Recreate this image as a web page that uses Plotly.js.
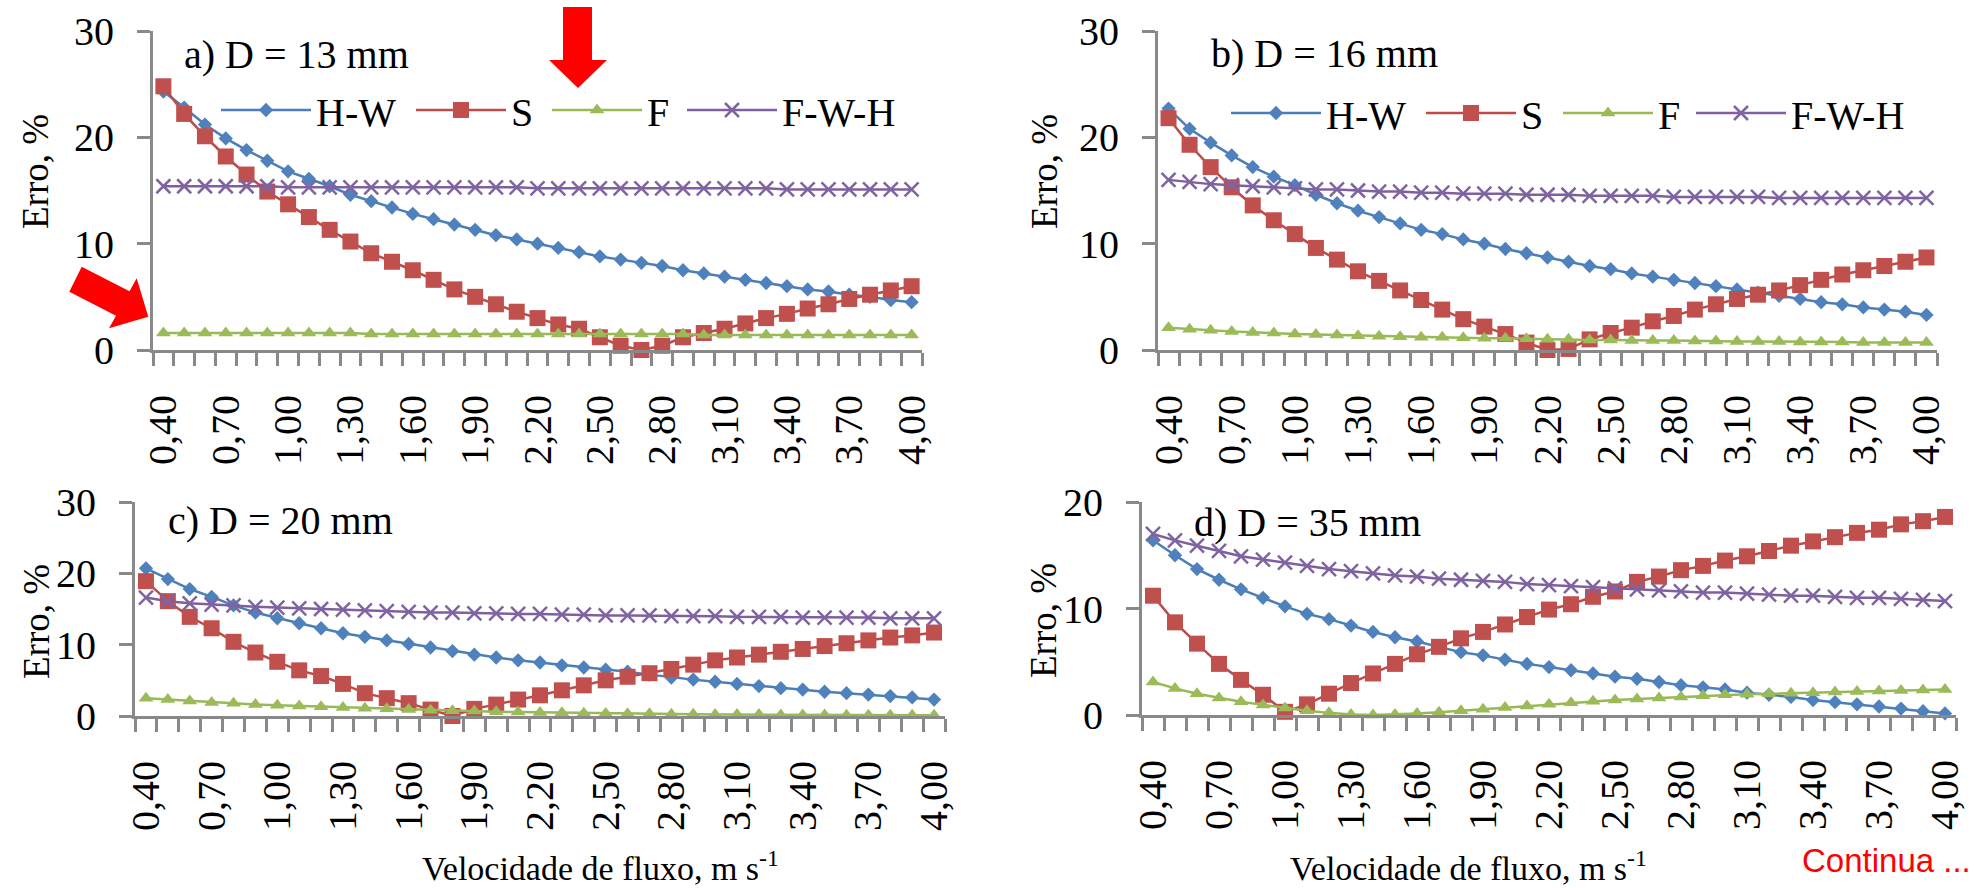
<!DOCTYPE html>
<html>
<head>
<meta charset="utf-8">
<script src="https://cdn.plot.ly/plotly-3.0.1.min.js"></script>
<style>
html,body{margin:0;padding:0;background:#ffffff;}
#chart{width:1975px;height:888px;}
</style>
</head>
<body>
<div id="chart"></div>
<script>
// ---------------- data ----------------
const velocity = [0.40,0.50,0.60,0.70,0.80,0.90,1.00,1.10,1.20,1.30,1.40,1.50,1.60,1.70,1.80,1.90,2.00,2.10,2.20,2.30,2.40,2.50,2.60,2.70,2.80,2.90,3.00,3.10,3.20,3.30,3.40,3.50,3.60,3.70,3.80,3.90,4.00];
const tickVals = [0.40,0.70,1.00,1.30,1.60,1.90,2.20,2.50,2.80,3.10,3.40,3.70,4.00];
const tickLabels = ["0,40","0,70","1,00","1,30","1,60","1,90","2,20","2,50","2,80","3,10","3,40","3,70","4,00"];
const seriesNames = ["H-W","S","F","F-W-H"];
const panelTitles = ["a) D = 13 mm","b) D = 16 mm","c) D = 20 mm","d) D = 35 mm"];

// a) D = 13 mm
const hw13  = [24.3,22.8,21.2,19.9,18.8,17.8,16.8,16.1,15.4,14.6,14.0,13.4,12.8,12.3,11.8,11.3,10.8,10.4,10.0,9.6,9.2,8.8,8.5,8.2,7.9,7.5,7.2,6.9,6.6,6.3,6.0,5.7,5.5,5.2,5.0,4.7,4.5];
const s13   = [24.8,22.2,20.1,18.2,16.5,14.9,13.7,12.5,11.3,10.2,9.1,8.3,7.5,6.6,5.7,5.0,4.3,3.6,3.0,2.4,2.0,1.2,0.4,0.0,0.4,1.2,1.6,2.0,2.5,3.0,3.4,3.9,4.3,4.8,5.2,5.6,6.0];
const f13   = [1.6,1.6,1.6,1.6,1.6,1.6,1.6,1.6,1.6,1.6,1.5,1.5,1.5,1.5,1.5,1.5,1.5,1.5,1.5,1.5,1.5,1.5,1.5,1.5,1.5,1.5,1.4,1.4,1.4,1.4,1.4,1.4,1.4,1.4,1.4,1.4,1.4];
const fwh13 = [15.4,15.4,15.4,15.4,15.4,15.4,15.3,15.3,15.3,15.3,15.3,15.3,15.3,15.3,15.3,15.3,15.3,15.3,15.2,15.2,15.2,15.2,15.2,15.2,15.2,15.2,15.2,15.2,15.2,15.2,15.1,15.1,15.1,15.1,15.1,15.1,15.1];

// b) D = 16 mm
const hw16  = [22.7,20.8,19.5,18.3,17.2,16.3,15.5,14.6,13.8,13.1,12.5,11.9,11.3,10.9,10.4,10.0,9.5,9.1,8.7,8.3,7.9,7.6,7.2,6.9,6.6,6.3,6.0,5.7,5.4,5.1,4.8,4.5,4.3,4.0,3.8,3.6,3.3];
const s16   = [21.8,19.3,17.2,15.3,13.6,12.2,10.9,9.6,8.5,7.4,6.5,5.6,4.7,3.8,2.9,2.2,1.5,0.7,0.0,0.1,1.0,1.6,2.1,2.7,3.2,3.8,4.3,4.8,5.2,5.6,6.1,6.6,7.1,7.5,7.9,8.3,8.7];
const f16   = [2.1,1.95,1.85,1.75,1.65,1.6,1.5,1.45,1.4,1.35,1.3,1.25,1.2,1.2,1.15,1.1,1.1,1.05,1.0,1.0,0.95,0.95,0.9,0.9,0.9,0.85,0.85,0.8,0.8,0.8,0.75,0.75,0.75,0.7,0.7,0.7,0.7];
const fwh16 = [16.0,15.8,15.6,15.5,15.4,15.3,15.2,15.1,15.1,15.0,14.9,14.9,14.8,14.8,14.7,14.7,14.7,14.6,14.6,14.6,14.5,14.5,14.5,14.5,14.4,14.4,14.4,14.4,14.4,14.3,14.3,14.3,14.3,14.3,14.3,14.3,14.3];

// c) D = 20 mm
const hw20  = [20.7,19.2,17.8,16.7,15.5,14.5,13.7,13.0,12.3,11.6,11.1,10.6,10.1,9.6,9.1,8.6,8.2,7.8,7.5,7.1,6.8,6.5,6.2,5.8,5.4,5.1,4.8,4.5,4.2,3.9,3.7,3.4,3.2,3.0,2.8,2.6,2.3];
const s20   = [18.9,16.1,13.9,12.3,10.4,8.9,7.6,6.4,5.6,4.5,3.2,2.5,1.8,0.9,0.0,1.0,1.6,2.3,2.9,3.6,4.3,5.0,5.5,6.0,6.6,7.2,7.8,8.2,8.6,9.0,9.4,9.8,10.2,10.6,11.0,11.3,11.7];
const f20   = [2.5,2.3,2.1,1.9,1.8,1.6,1.5,1.4,1.3,1.2,1.1,1.0,0.9,0.8,0.75,0.7,0.6,0.55,0.5,0.45,0.4,0.35,0.3,0.3,0.25,0.25,0.2,0.2,0.2,0.15,0.15,0.15,0.1,0.1,0.1,0.1,0.1];
const fwh20 = [16.6,16.1,15.8,15.6,15.5,15.3,15.2,15.1,15.0,14.9,14.8,14.7,14.6,14.5,14.5,14.4,14.4,14.3,14.3,14.2,14.2,14.1,14.1,14.1,14.0,14.0,14.0,13.9,13.9,13.9,13.8,13.8,13.8,13.8,13.7,13.7,13.7];

// d) D = 35 mm
const hw35  = [16.4,15.0,13.7,12.7,11.8,11.0,10.2,9.5,9.0,8.4,7.8,7.3,6.9,6.4,5.9,5.6,5.2,4.8,4.5,4.2,3.9,3.6,3.4,3.1,2.8,2.6,2.4,2.1,1.9,1.7,1.4,1.2,1.0,0.8,0.6,0.35,0.15];
const s35   = [11.2,8.7,6.7,4.8,3.3,1.9,0.3,1.0,2.0,3.0,3.9,4.8,5.7,6.4,7.2,7.8,8.5,9.2,9.9,10.4,11.1,11.6,12.5,13.0,13.6,14.0,14.5,14.9,15.4,15.9,16.3,16.7,17.1,17.4,17.9,18.2,18.6];
const f35   = [3.1,2.5,2.0,1.6,1.25,0.95,0.65,0.4,0.2,0.05,0.0,0.05,0.15,0.25,0.4,0.55,0.7,0.85,1.0,1.15,1.3,1.4,1.5,1.6,1.7,1.8,1.9,1.95,2.0,2.05,2.1,2.15,2.2,2.25,2.3,2.35,2.4];
const fwh35 = [17.0,16.4,15.9,15.4,14.9,14.6,14.3,14.0,13.7,13.5,13.3,13.1,13.0,12.8,12.7,12.6,12.5,12.3,12.2,12.1,12.0,11.9,11.8,11.7,11.6,11.5,11.5,11.4,11.3,11.2,11.2,11.1,11.0,11.0,10.9,10.8,10.7];

// ---------------- layout helpers ----------------
const W = 1975, H = 888;
const px = x => x / W;
const py = y => 1 - y / H;
const SERIF = "Liberation Serif";
const AXIS_GRAY = "#898989";

const styles = [
  {color:"#4A7EBB", mcolor:"#4F81BD", symbol:"diamond", size:11, mline:0},
  {color:"#BE4B48", mcolor:"#C0504D", symbol:"square", size:16, mline:0},
  {color:"#98B954", mcolor:"#9BBB59", symbol:"triangle-up", size:13, mline:0},
  {color:"#7D60A0", mcolor:"#8064A2", symbol:"x-thin-open", size:14, mline:2.5}
];

const panels = [
  {series:[hw13,s13,f13,fwh13], ymax:30, x0:153, x1:922, y0:31, y1:350,
   legendX:[223,418,554,689], legendY:110},
  {series:[hw16,s16,f16,fwh16], ymax:30, x0:1158, x1:1937, y0:31, y1:350,
   legendX:[1233,1428,1565,1698], legendY:113},
  {series:[hw20,s20,f20,fwh20], ymax:30, x0:135, x1:945, y0:502, y1:716, legendX:null},
  {series:[hw35,s35,f35,fwh35], ymax:20, x0:1142, x1:1956, y0:502, y1:715, legendX:null}
];

const traces = [];
const layout = {
  width: W, height: H,
  margin: {l:0, r:0, t:0, b:0, pad:0},
  paper_bgcolor: "#ffffff",
  plot_bgcolor: "rgba(0,0,0,0)",
  separators: ", ",
  font: {family: SERIF, color: "#000000"},
  showlegend: true,
  annotations: [],
  shapes: []
};

let legendCount = 0;
panels.forEach((p, k) => {
  const n = k + 1;
  const xa = n === 1 ? "x" : "x" + n;
  const ya = n === 1 ? "y" : "y" + n;
  p.series.forEach((vals, j) => {
    const st = styles[j];
    const tr = {
      type: "scatter", mode: "lines+markers",
      x: velocity, y: vals, name: seriesNames[j],
      xaxis: xa, yaxis: ya, cliponaxis: false,
      line: {color: st.color, width: 2.5},
      marker: {symbol: st.symbol, size: st.size, color: st.mcolor,
               line: {color: st.mcolor, width: st.mline}},
      showlegend: !!p.legendX,
      hoverinfo: "skip"
    };
    if (p.legendX) {
      legendCount += 1;
      const lname = legendCount === 1 ? "legend" : "legend" + legendCount;
      tr.legend = lname;
      layout[lname] = {
        orientation: "h", x: px(p.legendX[j] - 7), y: py(p.legendY),
        xanchor: "left", yanchor: "middle", xref: "paper", yref: "paper",
        font: {family: SERIF, size: 40, color: "#000"},
        bgcolor: "rgba(0,0,0,0)", borderwidth: 0,
        itemwidth: 90, itemclick: false, itemdoubleclick: false
      };
    }
    traces.push(tr);
  });
  layout[n === 1 ? "xaxis" : "xaxis" + n] = {
    domain: [px(p.x0), px(p.x1)], anchor: ya,
    type: "linear", range: [0.35, 4.05], fixedrange: true,
    showgrid: false, zeroline: false,
    showline: true, linecolor: AXIS_GRAY, linewidth: 3,
    tickmode: "array", tickvals: tickVals, ticktext: tickLabels,
    ticks: "", tickangle: -90,
    ticklabelstandoff: 26,
    tickfont: {family: SERIF, size: 40, color: "#000"},
    minor: {ticks: "outside", ticklen: 13, tickwidth: 3, tickcolor: AXIS_GRAY,
            tick0: 0.35, dtick: 0.1, showgrid: false}
  };
  layout[n === 1 ? "yaxis" : "yaxis" + n] = {
    domain: [py(p.y1), py(p.y0)], anchor: xa,
    range: [0, p.ymax], dtick: 10, tick0: 0, fixedrange: true,
    showgrid: false, zeroline: false,
    showline: true, linecolor: AXIS_GRAY, linewidth: 3,
    ticks: "outside", ticklen: 13, tickwidth: 3, tickcolor: AXIS_GRAY,
    ticklabelstandoff: 15,
    tickfont: {family: SERIF, size: 40, color: "#000"}
  };
});

// panel labels
const labelPos = [[182,55],[1209,53],[166,520],[1192,522]];
panelTitles.forEach((t, k) => {
  layout.annotations.push({text: t, xref:"paper", yref:"paper",
    x: px(labelPos[k][0]), y: py(labelPos[k][1]), xanchor:"left", yanchor:"middle",
    showarrow:false, font:{family:SERIF, size:40, color:"#000"}});
});

// y axis titles
[[35,172],[1044,172],[36,622],[1043,621]].forEach(c => {
  layout.annotations.push({text:"Erro, %", xref:"paper", yref:"paper",
    x: px(c[0]), y: py(c[1]), xanchor:"center", yanchor:"middle", textangle:-90,
    showarrow:false, font:{family:SERIF, size:37, color:"#000"}});
});

// x axis titles
[[600,866],[1468,866]].forEach(c => {
  layout.annotations.push({text:"Velocidade de fluxo, m s<sup>-1</sup>", xref:"paper", yref:"paper",
    x: px(c[0]), y: py(c[1]), xanchor:"center", yanchor:"middle",
    showarrow:false, font:{family:SERIF, size:34, color:"#000"}});
});

layout.annotations.push({text:"Continua ...", xref:"paper", yref:"paper",
  x: px(1800), y: py(860), xanchor:"left", yanchor:"middle",
  showarrow:false, font:{family:"Liberation Sans", size:33, color:"#FF0000"}});

// red arrows (decorations)
const pathOf = pts => "M " + pts.map(p => px(p[0]) + "," + py(p[1])).join(" L ") + " Z";
const downArrow = [[563,7],[592,7],[592,60],[607,60],[578,88],[549,60],[563,60]];
const diagArrow = [[81.7,266.7],[129.5,291.3],[136.7,278.3],[148.3,316.7],[109,328.3],[116,315.7],[69.3,291.7]];
[downArrow, diagArrow].forEach(a => {
  layout.shapes.push({type:"path", xref:"paper", yref:"paper", path: pathOf(a),
    fillcolor:"#FF0000", line:{width:0}, layer:"above"});
});

Plotly.newPlot("chart", traces, layout, {staticPlot:true, displayModeBar:false});
</script>
</body>
</html>
